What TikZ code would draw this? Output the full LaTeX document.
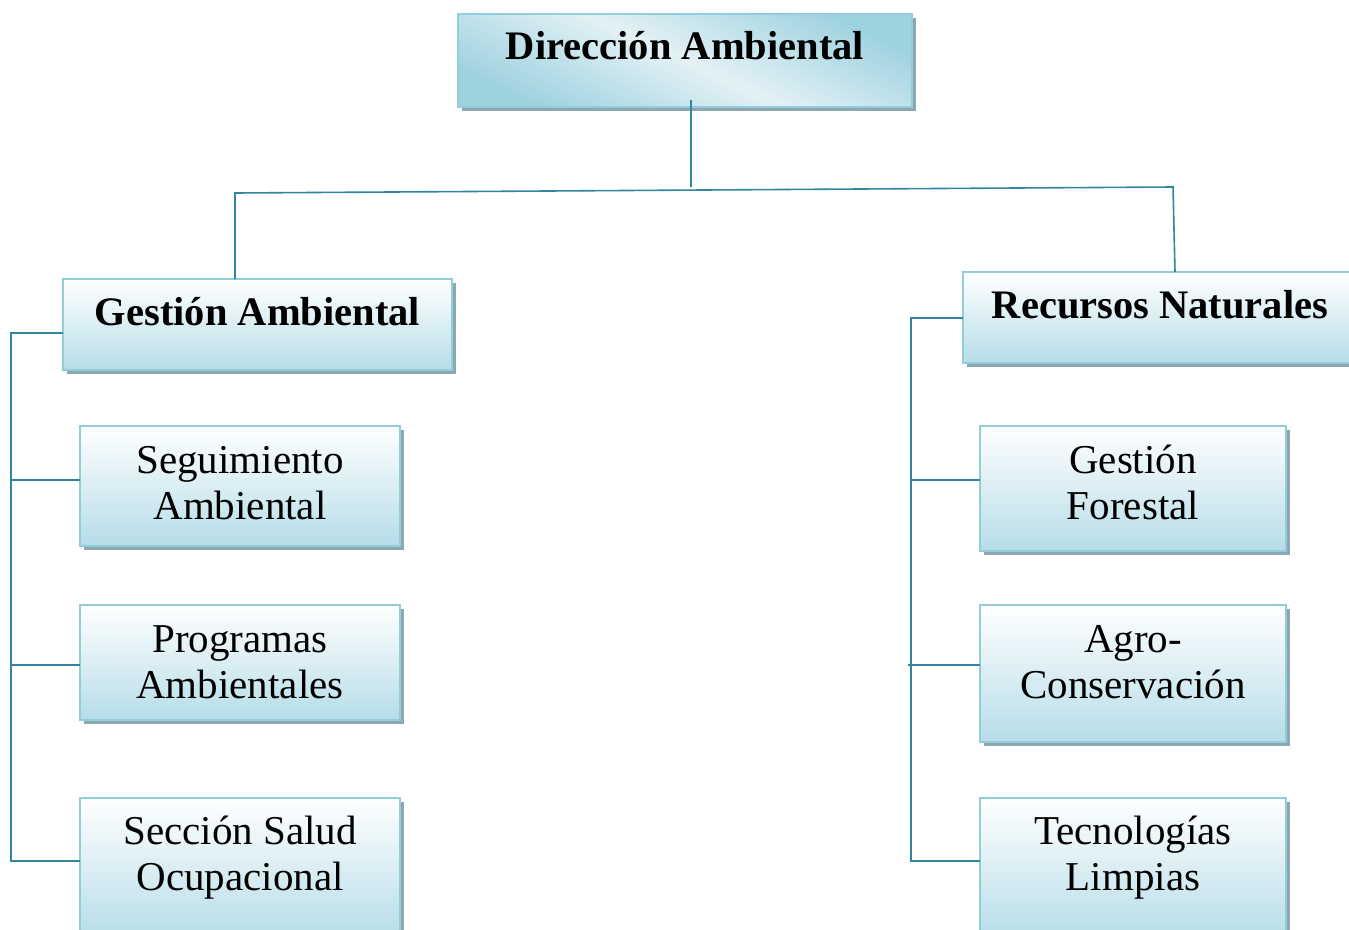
\documentclass[tikz,border=0pt]{standalone}
\usepackage{fontspec}
\setmainfont{Liberation Serif}
\usetikzlibrary{shadows}
\definecolor{conncol}{HTML}{31859C}
\definecolor{bordcol}{HTML}{92CDDC}
\definecolor{fillbot}{HTML}{B6DDE8}
\definecolor{filltopbox}{HTML}{9ED2DF}
\definecolor{fillmid}{HTML}{E3F1F5}
\definecolor{shadcol}{HTML}{8DA7B1}
\tikzset{
  box/.style={rectangle, draw=bordcol, line width=2.5pt, inner sep=0pt, outer sep=0pt,
    anchor=north west, top color=white, bottom color=fillbot,
    drop shadow={shadow xshift=3.5pt, shadow yshift=-3.5pt, fill=shadcol, opacity=1}},
  topbox/.style={box, top color=filltopbox, bottom color=filltopbox, middle color=fillmid, shading angle=-25},
  conn/.style={draw=conncol, line width=1.6pt},
  bt/.style={font=\fontsize{40.5}{45}\selectfont\bfseries, inner sep=0pt},
  rt/.style={font=\fontsize{41}{46}\selectfont, align=center, inner sep=0pt},
}
\begin{document}
\begin{tikzpicture}[x=1pt,y=-1pt]
\useasboundingbox (0,0) rectangle (1349,929);
\node[topbox, minimum width=454, minimum height=93] (top) at (458,14) {};
\node[box, minimum width=389, minimum height=91] (ga) at (63,279) {};
\node[box, minimum width=392, minimum height=91] (rn) at (963,272) {};
\node[box, minimum width=320, minimum height=120] (s1) at (80,426) {};
\node[box, minimum width=320, minimum height=115] (s2) at (80,605) {};
\node[box, minimum width=320, minimum height=140] (s3) at (80,798) {};
\node[box, minimum width=306, minimum height=125] (r1) at (980,426) {};
\node[box, minimum width=306, minimum height=137] (r2) at (980,605) {};
\node[box, minimum width=306, minimum height=140] (r3) at (980,798) {};

\coordinate (jt) at (691,187);
\coordinate (hl) at (235,193);
\coordinate (hr) at (1173,187);
\coordinate (lb) at (11,861);
\coordinate (rb) at (911,861);

\draw[conn] ([xshift=6,yshift=7]top.south) -- (jt);
\draw[conn] ([xshift=-22.5]ga.north) -- (hl) -- (hr) -- ([xshift=16]rn.north);
\draw[conn] ([yshift=-8.5]ga.west) -| (lb) -- ([yshift=7]s3.west);
\draw[conn] (lb |- s1.west) ++(0,-6) -- ([yshift=6]s1.west);
\draw[conn] (lb |- s2.west) ++(0,2.5) -- ([yshift=-2.5]s2.west);
\draw[conn] ([yshift=-0.5]rn.west) -| (rb) -- ([yshift=7]r3.west);
\draw[conn] (rb |- r1.west) ++(0,-8.5) -- ([yshift=8.5]r1.west);
\draw[conn] ([xshift=-3]rb |- r2.west) ++(0,-8.5) -- ([yshift=8.5]r2.west);

\node[bt, anchor=base] (t0) at (top.north |- 0,59) {Dirección Ambiental};
\node[bt, anchor=base] (t1) at (ga.north |- 0,325) {Gestión Ambiental};
\node[bt, anchor=base] (t2) at (1160,318) {Recursos Naturales};

\node[rt] (u1) at (240,483) {Seguimiento\\Ambiental};
\node[rt] (u2) at (240,662) {Programas\\Ambientales};
\node[rt] (u3) at (240,858) {Sección Salud\\Ocupacional};
\node[rt] (v1) at (1133,482) {Gestión\\Forestal};
\node[rt] (v2) at (1133,662) {Agro-\\Conservación};
\node[rt] (v3) at (1133,858) {Tecnologías\\Limpias};
\end{tikzpicture}
\end{document}
